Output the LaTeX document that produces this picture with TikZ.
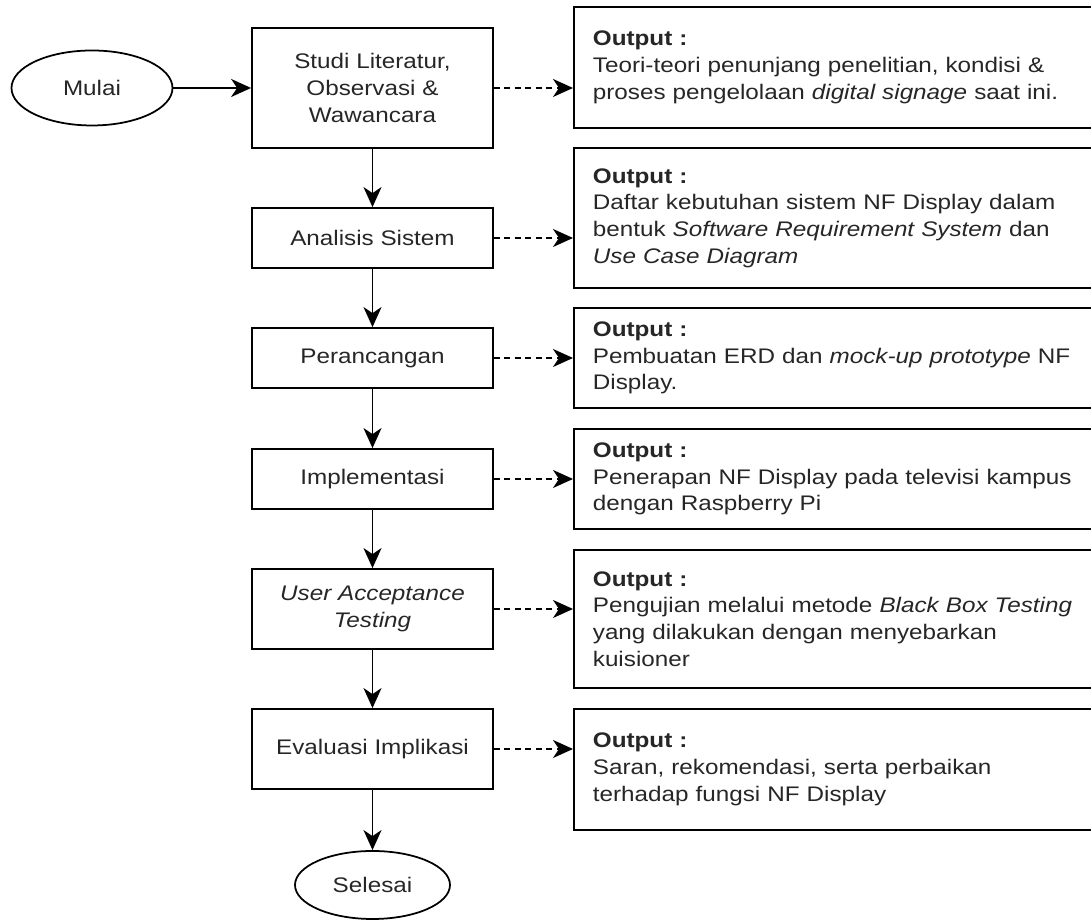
\documentclass[tikz,border=0pt]{standalone}
\usepackage{fontspec}
\setmainfont{Liberation Sans}[FakeStretch=1.15]
\usetikzlibrary{shapes.geometric,arrows.meta}

\begin{document}
\begin{tikzpicture}[
  txt/.style={font=\fontsize{12}{15.2}\selectfont, text=black!85},
  proses/.style={txt, draw, line width=1pt, minimum width=4.82cm, align=center},
  ujung/.style={txt, draw, ellipse, line width=1pt},
  keluaran/.style={txt, draw, line width=1pt, anchor=west, align=left, text width=10.2cm, inner xsep=0.38cm},
  panah/.style={line width=1pt, -{Stealth[length=0.4cm,width=0.36cm,inset=0.12cm]}},
  putus/.style={panah, dash pattern=on 0.12cm off 0.09cm}]
\useasboundingbox (0,0) rectangle (21.82,18.4);
% langkah penelitian
\node[ujung, minimum width=3.22cm, minimum height=1.5cm] (mulai) at (1.84,16.64) {Mulai};
\node[proses, minimum height=2.4cm] (studi) at (7.45,16.64) {Studi Literatur,\\ Observasi \&\\ Wawancara};
\node[proses, minimum height=1.2cm] (analisis) at (7.45,13.64) {Analisis Sistem};
\node[proses, minimum height=1.2cm] (rancang) at (7.45,11.24) {Perancangan};
\node[proses, minimum height=1.2cm] (implementasi) at (7.45,8.82) {Implementasi};
\node[proses, minimum height=1.6cm] (uat) at (7.45,6.22) {\textit{User Acceptance}\\ \textit{Testing}};
\node[proses, minimum height=1.6cm] (evaluasi) at (7.45,3.42) {Evaluasi Implikasi};
\node[ujung, minimum width=3.1cm, minimum height=1.36cm] (selesai) at (7.45,0.7) {Selesai};
% keluaran
\node[keluaran, minimum height=2.42cm] (o1) at (11.46,17.05) {\textbf{Output :}\\ Teori-teori penunjang penelitian, kondisi \&\\ proses pengelolaan \textit{digital signage} saat ini.};
\node[keluaran, minimum height=2.8cm] (o2) at (11.46,14.04) {\textbf{Output :}\\ Daftar kebutuhan sistem NF Display dalam\\ bentuk \textit{Software Requirement System} dan\\ \textit{Use Case Diagram}};
\node[keluaran, minimum height=2.0cm] (o3) at (11.46,11.24) {\textbf{Output :}\\ Pembuatan ERD dan \textit{mock-up prototype} NF\\ Display.};
\node[keluaran, minimum height=2.0cm] (o4) at (11.46,8.82) {\textbf{Output :}\\ Penerapan NF Display pada televisi kampus\\ dengan Raspberry Pi};
\node[keluaran, minimum height=2.76cm] (o5) at (11.46,6.02) {\textbf{Output :}\\ Pengujian melalui metode \textit{Black Box Testing}\\ yang dilakukan dengan menyebarkan\\ kuisioner};
\node[keluaran, minimum height=2.42cm] (o6) at (11.46,3.01) {\textbf{Output :}\\ Saran, rekomendasi, serta perbaikan\\ terhadap fungsi NF Display};
% alur
\draw[panah] (mulai) -- (studi);
\draw[panah] (studi) -- (analisis);
\draw[panah] (analisis) -- (rancang);
\draw[panah] (rancang) -- (implementasi);
\draw[panah] (implementasi) -- (uat);
\draw[panah] (uat) -- (evaluasi);
\draw[panah] (evaluasi) -- (selesai);
\draw[putus] (studi.east) -- (studi.east -| o1.west);
\draw[putus] (analisis.east) -- (analisis.east -| o2.west);
\draw[putus] (rancang.east) -- (rancang.east -| o3.west);
\draw[putus] (implementasi.east) -- (implementasi.east -| o4.west);
\draw[putus] (uat.east) -- (uat.east -| o5.west);
\draw[putus] (evaluasi.east) -- (evaluasi.east -| o6.west);
\end{tikzpicture}
\end{document}
